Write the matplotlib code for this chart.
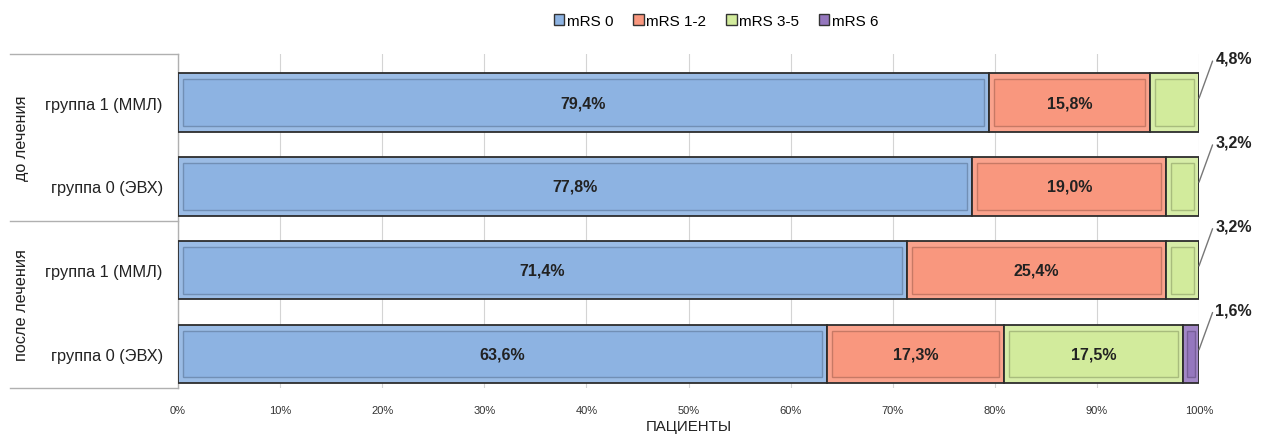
import matplotlib
matplotlib.use("Agg")
import matplotlib.pyplot as plt
from matplotlib.lines import Line2D
from matplotlib.patches import Rectangle
from matplotlib.colors import to_rgb
import numpy as np

plt.rcParams['font.family'] = ['Liberation Sans', 'DejaVu Sans']

# Data
rows = ["группа 1 (ММЛ)", "группа 0 (ЭВХ)", "группа 1 (ММЛ)", "группа 0 (ЭВХ)"]
groups = ["до лечения", "после лечения"]
series = ["mRS 0", "mRS 1-2", "mRS 3-5", "mRS 6"]
mrs0 = [79.4, 77.8, 71.4, 63.6]
mrs12 = [15.8, 19.0, 25.4, 17.3]
mrs35 = [4.8, 3.2, 3.2, 17.5]
mrs6 = [0.0, 0.0, 0.0, 1.6]
colors = ["#8DB3E2", "#F9977E", "#D2EB9C", "#9577BE"]
xticks = np.arange(0, 101, 10)

W, H = 1261, 435
fig = plt.figure(figsize=(W / 100, H / 100), dpi=100)
ax_top, ax_bot = 55, 389
ax = fig.add_axes([178 / W, 1 - ax_bot / H, (1199 - 178) / W, (ax_bot - ax_top) / H])

y = np.arange(len(rows))
bar_h = 0.70
ax.set_xlim(0, 100)
ax.set_ylim(3.406, -0.579)

def darker(c, f=0.75):
    r, g, b = to_rgb(c)
    return (r * f, g * f, b * f)

def lighter(c, f=0.35):
    r, g, b = to_rgb(c)
    return (r + (1 - r) * f, g + (1 - g) * f, b + (1 - b) * f)

data = [mrs0, mrs12, mrs35, mrs6]
left = np.zeros(len(rows))
dx, dy = 0.5, 0.07
for vals, col in zip(data, colors):
    vals = np.array(vals)
    ax.barh(y, vals, left=left, height=bar_h, color=lighter(col, 0.12),
            edgecolor="#2d2d2d", linewidth=1.3, zorder=3)
    for yi, v, l in zip(y, vals, left):
        if v <= 0:
            continue
        ix = min(dx, v * 0.25)
        ax.add_patch(Rectangle((l + ix, yi - bar_h / 2 + dy), v - 2 * ix, bar_h - 2 * dy,
                               facecolor=col, edgecolor=darker(col, 0.8),
                               linewidth=1.0, zorder=4))
    left = left + vals

# Value labels inside wide segments, leader labels for narrow ones
for i in range(len(rows)):
    l = 0.0
    segs = [mrs0[i], mrs12[i], mrs35[i], mrs6[i]]
    for v in segs:
        if v >= 10:
            ax.text(l + v / 2, y[i], f"{v:.1f}%".replace(".", ","), ha="center",
                    va="center", fontsize=11.5, fontweight="bold", color="#222222", zorder=5)
        l += v
    small = segs[3] if segs[3] > 0 else segs[2]
    ax.annotate(f"{small:.1f}%".replace(".", ","), xy=(100, y[i] - 0.05),
                xytext=(101.6, y[i] - 0.53), textcoords="data",
                fontsize=11.5, fontweight="bold", color="#222222", va="center", ha="left",
                annotation_clip=False,
                arrowprops=dict(arrowstyle="-", color="#777777", lw=1.0,
                                shrinkA=0, shrinkB=0,
                                connectionstyle="angle,angleA=0,angleB=70,rad=0"))

ax.set_xticks(xticks)
ax.set_xticklabels([f"{t}%" for t in xticks], fontsize=8, color="#333333")
ax.tick_params(axis="x", length=0, pad=12)
ax.set_yticks(y)
ax.set_yticklabels(rows, fontsize=11.8, color="#222222")
ax.tick_params(axis="y", length=0, pad=11)
ax.grid(axis="x", color="#d4d4d4", linewidth=0.8, zorder=0)
ax.set_axisbelow(True)
for s in ["top", "right", "bottom"]:
    ax.spines[s].set_visible(False)
ax.spines["left"].set_color("#b0b0b0")
ax.spines["left"].set_linewidth(1.0)
ax.set_xlabel("ПАЦИЕНТЫ", fontsize=10.8, color="#222222", labelpad=3)

# Group bracket box on the left
for yy in [ax_top, (ax_top + ax_bot) / 2, ax_bot]:
    fig.add_artist(Line2D([10 / W, 178 / W], [1 - yy / H, 1 - yy / H],
                          color="#b0b0b0", linewidth=1.0))
mid = (ax_top + ax_bot) / 2
for g, (a, b) in zip(groups, [(ax_top, mid), (mid, ax_bot)]):
    fig.text(22 / W, 1 - (a + b) / 2 / H, g, rotation=90, ha="center", va="center",
             fontsize=11.7, color="#222222")

# Legend
handles = [Rectangle((0, 0), 1, 1, facecolor=c, edgecolor="#333333", linewidth=1.0)
           for c in colors]
fig.legend(handles, series, loc="center", bbox_to_anchor=(716 / W, 1 - 22 / H),
           ncol=4, frameon=False, fontsize=11, handlelength=0.7, handleheight=0.7,
           handletextpad=0.15, columnspacing=1.3)

fig.savefig("out.png", dpi=100)
